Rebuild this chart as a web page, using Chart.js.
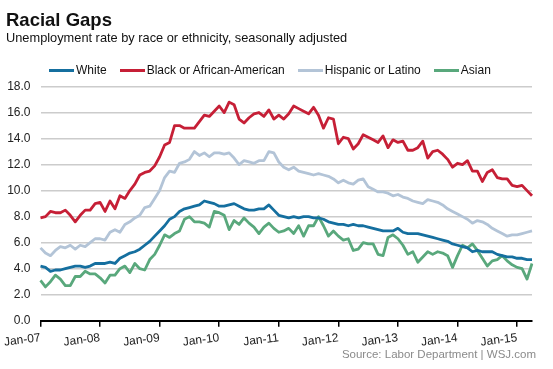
<!DOCTYPE html>
<html>
<head>
<meta charset="utf-8">
<script src="https://cdn.jsdelivr.net/npm/chart.js@4"></script>
<style>
  body { margin: 0; background: #fff; }
  #wrap { position: relative; width: 553px; height: 369px; font-family: "Liberation Sans", Arial, sans-serif; color: #111; }
  #chart { position: absolute; left: 0; top: 0; }
  .title { position: absolute; left: 6px; top: 11px; font-size: 18.5px; font-weight: bold; line-height: 1; }
  .subtitle { position: absolute; left: 6px; top: 32px; font-size: 12.8px; line-height: 1; }
  #legend { position: absolute; left: 49px; top: 64px; display: flex; font-size: 12px; line-height: 1; }
  #legend .item { display: flex; align-items: center; margin-right: 13px; }
  #legend .mark { width: 25px; height: 3px; margin-right: 2px; }
  .source { position: absolute; right: 17px; top: 349px; font-size: 11.5px; line-height: 1; color: #8a8a8a; }
</style>
</head>
<body>
<div id="wrap">
  <canvas id="chart" width="553" height="369"></canvas>
  <div class="title">Racial Gaps</div>
  <div class="subtitle">Unemployment rate by race or ethnicity, seasonally adjusted</div>
  <div id="legend"></div>
  <div class="source">Source: Labor Department | WSJ.com</div>
</div>
<script>
// months Jan-07 .. Apr-15
const monthNames = ["Jan", "Feb", "Mar", "Apr", "May", "Jun", "Jul", "Aug", "Sep", "Oct", "Nov", "Dec"];
const years = ["07", "08", "09", "10", "11", "12", "13", "14", "15"];
const lastYearMonths = 4;

const seriesNames = ["White", "Black or African-American", "Hispanic or Latino", "Asian"];
const seriesColors = ["#156f9f", "#c61f36", "#b3c4d7", "#59a87c"];

const white = [
  4.2, 4.1, 3.8, 3.9, 3.9, 4.0, 4.1, 4.2, 4.2, 4.1, 4.2, 4.4,
  4.4, 4.4, 4.5, 4.4, 4.8, 5.0, 5.2, 5.3, 5.5, 5.8, 6.1, 6.5,
  6.9, 7.3, 7.8, 8.0, 8.4, 8.6, 8.7, 8.8, 8.9, 9.2, 9.1, 9.0,
  8.8, 8.8, 8.9, 9.0, 8.8, 8.6, 8.5, 8.5, 8.6, 8.6, 8.9, 8.5,
  8.1, 8.0, 7.9, 8.0, 7.9, 8.0, 8.0, 7.9, 7.9, 7.8, 7.6, 7.5,
  7.4, 7.4, 7.3, 7.4, 7.3, 7.3, 7.2, 7.1, 7.0, 6.9, 6.9, 6.9,
  7.1, 6.8, 6.7, 6.7, 6.7, 6.6, 6.5, 6.4, 6.3, 6.2, 6.1, 5.9,
  5.8, 5.7, 5.6, 5.3, 5.4, 5.3, 5.3, 5.3, 5.1, 5.0, 4.9, 4.9,
  4.8, 4.8, 4.7, 4.7
];
const black = [
  7.9, 8.0, 8.4, 8.3, 8.3, 8.5, 8.1, 7.6, 8.1, 8.5, 8.5, 9.0,
  9.1, 8.4, 9.2, 8.6, 9.6, 9.4, 10.0, 10.5, 11.2, 11.4, 11.5, 11.9,
  12.6, 13.5, 13.7, 15.0, 15.0, 14.8, 14.8, 14.8, 15.3, 15.8, 15.7, 16.1,
  16.5, 16.0, 16.8, 16.6, 15.5, 15.2, 15.6, 15.9, 16.0, 15.7, 16.2, 15.5,
  15.8, 15.5, 15.9, 16.5, 16.3, 16.1, 15.9, 16.4, 15.8, 14.8, 15.6, 15.5,
  13.6, 14.1, 14.0, 13.2, 13.6, 14.3, 14.1, 13.9, 13.7, 14.2, 13.3, 13.9,
  13.7, 13.8, 13.1, 13.1, 13.3, 13.8, 12.5, 13.0, 13.1, 12.8, 12.4, 11.8,
  12.1, 12.0, 12.3, 11.5, 11.5, 10.7, 11.4, 11.6, 11.0, 10.9, 10.9, 10.4,
  10.3, 10.4, 10.0, 9.6
];
const hispanic = [
  5.6, 5.2, 5.0, 5.4, 5.7, 5.6, 5.8, 5.5, 5.8, 5.7, 6.0, 6.3,
  6.3, 6.2, 6.8, 7.0, 6.8, 7.4, 7.6, 7.9, 8.1, 8.7, 8.8, 9.4,
  10.0, 11.0, 11.5, 11.4, 12.1, 12.2, 12.4, 13.0, 12.7, 12.9, 12.6, 12.9,
  12.9, 12.8, 12.9, 12.5, 12.0, 12.3, 12.2, 12.1, 12.3, 12.3, 13.0, 12.9,
  12.2, 11.8, 11.6, 11.8, 11.5, 11.4, 11.3, 11.2, 11.3, 11.2, 11.1, 10.9,
  10.6, 10.8, 10.6, 10.5, 10.8, 10.9, 10.3, 10.1, 9.9, 9.9, 9.8, 9.6,
  9.7, 9.5, 9.4, 9.2, 9.1, 9.0, 9.3, 9.2, 9.1, 8.9, 8.6, 8.4,
  8.2, 8.0, 7.8, 7.5, 7.7, 7.6, 7.4, 7.1, 6.9, 6.7, 6.5, 6.6,
  6.6, 6.7, 6.8, 6.9
];
const asian = [
  3.1, 2.6, 3.0, 3.5, 3.2, 2.7, 2.7, 3.4, 3.4, 3.8, 3.6, 3.6,
  3.3, 2.9, 3.5, 3.5, 4.0, 4.2, 3.7, 4.4, 4.0, 3.9, 4.7, 5.1,
  5.8, 6.6, 6.4, 6.7, 6.9, 7.8, 8.0, 7.6, 7.6, 7.5, 7.2, 8.4,
  8.3, 8.1, 7.0, 7.7, 7.4, 7.9, 7.5, 7.2, 6.7, 7.2, 7.5, 7.1,
  6.8, 6.9, 7.1, 6.7, 7.3, 6.5, 7.3, 7.3, 8.0, 7.3, 6.5, 6.9,
  6.5, 6.2, 6.3, 5.4, 5.5, 6.0, 5.9, 5.9, 5.1, 5.0, 6.4, 6.6,
  6.3, 5.8, 5.1, 5.3, 4.5, 4.9, 5.3, 5.1, 5.3, 5.2, 5.0, 4.1,
  5.0, 5.8, 5.6, 5.9, 5.4, 4.8, 4.2, 4.6, 4.7, 5.0, 4.6, 4.3,
  4.1, 4.0, 3.2, 4.4
];

const labels = [];
years.forEach((yr, i) => {
  const n = i === years.length - 1 ? lastYearMonths : 12;
  for (let m = 0; m < n; m++) labels.push(monthNames[m] + "-" + yr);
});

const values = [white, black, hispanic, asian];
const fontFamily = '"Liberation Sans", Arial, sans-serif';

// legend
const legend = document.getElementById("legend");
seriesNames.forEach((name, i) => {
  const div = document.createElement("div");
  div.className = "item";
  div.innerHTML = `<span class="mark" style="background:${seriesColors[i]}"></span><span>${name}</span>`;
  legend.appendChild(div);
});

new Chart(document.getElementById("chart").getContext("2d"), {
  type: "line",
  data: {
    labels,
    datasets: values.map((v, i) => ({
      label: seriesNames[i],
      data: v,
      borderColor: seriesColors[i],
      borderWidth: 2.8,
      pointRadius: 0,
      tension: 0,
      fill: false,
      borderJoinStyle: "round"
    }))
  },
  options: {
    responsive: false,
    animation: false,
    devicePixelRatio: 1,
    // no auto padding: the first rotated tick label hangs into the left margin
    layout: { autoPadding: false, padding: { top: 86.5, left: 6.5, right: 21, bottom: 15.5 } },
    plugins: { legend: { display: false }, tooltip: { enabled: false } },
    scales: {
      x: {
        offset: false,
        border: { display: true, color: "#000", width: 2 },
        grid: { display: true, drawOnChartArea: false, drawTicks: true, tickLength: 6, color: "#000", lineWidth: 1.5 },
        ticks: {
          autoSkip: false,
          maxRotation: 7,
          minRotation: 7,
          padding: 4,
          color: "#222",
          font: { family: fontFamily, size: 12 },
          callback: (val, i) => labels[i].startsWith("Jan") ? labels[i] : null
        }
      },
      y: {
        min: 0,
        max: 18,
        afterFit: (scale) => { scale.width = 34; },
        border: { display: false },
        grid: { color: "#cccccc", lineWidth: 1.6, drawTicks: false },
        ticks: {
          stepSize: 2,
          padding: 10,
          color: "#222",
          font: { family: fontFamily, size: 12 },
          callback: (v) => v.toFixed(1)
        }
      }
    }
  }
});
</script>
</body>
</html>
